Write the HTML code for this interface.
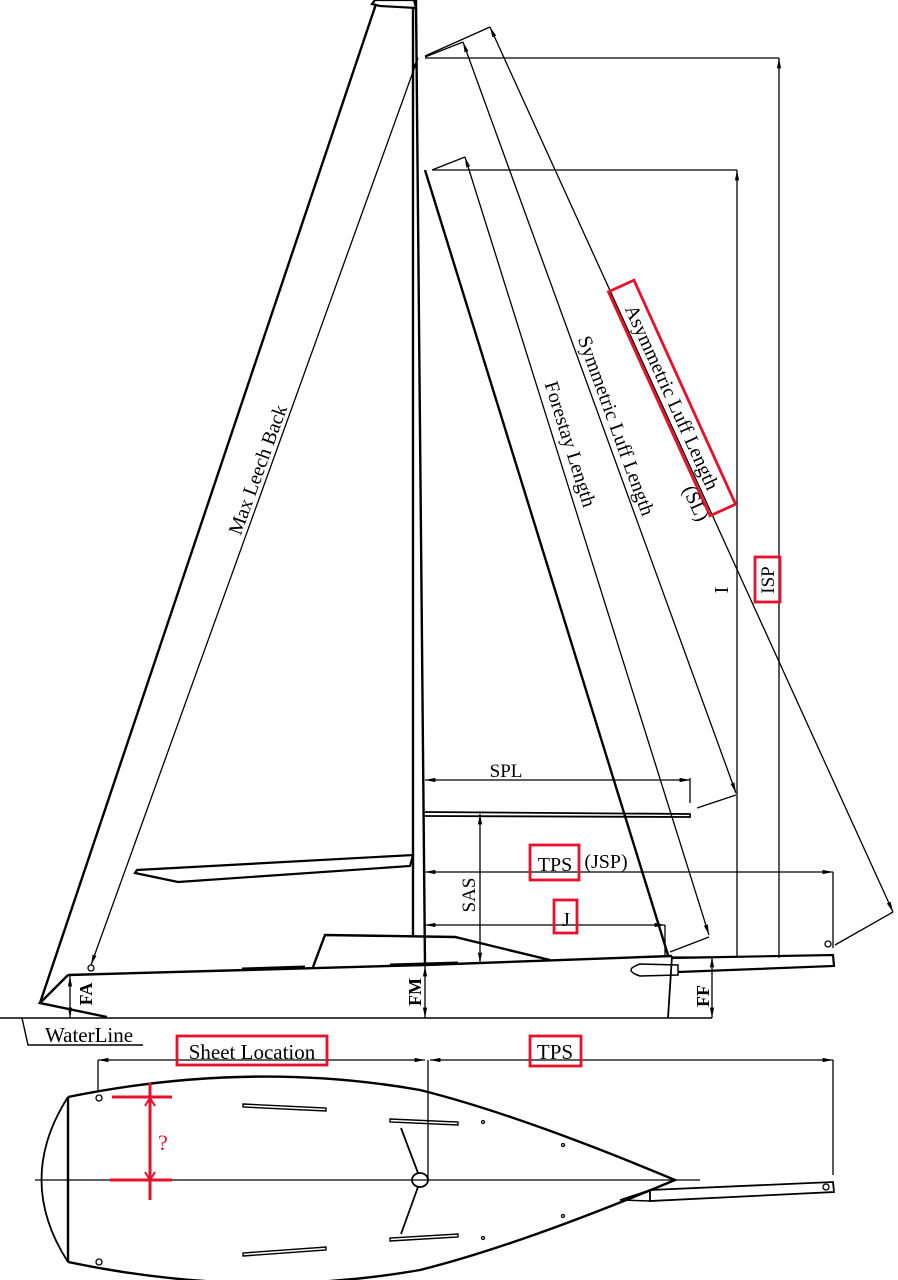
<!DOCTYPE html>
<html><head><meta charset="utf-8"><style>
html,body{margin:0;padding:0;background:#fff}
svg{display:block}
text{font-family:"Liberation Serif",serif;fill:#000}
</style></head><body>
<svg width="898" height="1280" viewBox="0 0 898 1280" xmlns="http://www.w3.org/2000/svg">
<defs>
<marker id="a" viewBox="0 0 10 10" refX="10" refY="5" markerWidth="8" markerHeight="8" orient="auto-start-reverse"><path d="M0,3 L10,5 L0,7 z" fill="#000"/></marker>
</defs>
<g stroke="#000" fill="none" stroke-width="1.3">
<polygon points="372,4 375,0 414,0 416,8 380,6" stroke-width="2.2" fill="#fff"/>
<line x1="413" y1="8" x2="413" y2="935" stroke-width="2.4"/>
<line x1="416" y1="0" x2="425" y2="965" stroke-width="2.4"/>
<line x1="376" y1="4" x2="40" y2="1003" stroke-width="2.4"/>
<polygon points="135,873 178,882 410,866 413,855 137,870" stroke-width="2.2" fill="#fff"/>
<line x1="425" y1="170" x2="668" y2="955" stroke-width="2.4"/>
<path d="M425,812 L690,814 L690,817 L425,816" stroke-width="1.8"/>
<polyline points="68,975 425,965 672,956" stroke-width="2.4"/>
<polyline points="68,975 40,1003 107,1017" stroke-width="2.4"/>
<line x1="672" y1="956" x2="668" y2="1018" stroke-width="1.8"/>
<line x1="242" y1="969" x2="305" y2="967" stroke-width="3"/>
<line x1="390" y1="965" x2="458" y2="963" stroke-width="3"/>
<polyline points="313,967 325,935 455,937 550,960" stroke-width="2.4"/>
<path d="M672,958 L833,955 L834,966 L678,972" stroke-width="2.2"/>
<path d="M678,965 L640,964 Q622,970 640,976 L678,975 Z" stroke-width="1.5"/>
<circle cx="828" cy="944" r="3"/>
<circle cx="91" cy="968" r="3"/>
<line x1="0" y1="1018" x2="712" y2="1018" stroke-width="1.6"/>
<polyline points="22,1018 28,1045 143,1045" stroke-width="1.4"/>
<line x1="425" y1="58" x2="779" y2="58"/>
<line x1="779" y1="58" x2="779" y2="958" marker-start="url(#a)"/>
<line x1="432" y1="170" x2="737" y2="170"/>
<line x1="737" y1="170" x2="737" y2="958" marker-start="url(#a)"/>
<polyline points="425,56 490,27"/>
<line x1="490" y1="27" x2="893" y2="912" marker-start="url(#a)" marker-end="url(#a)"/>
<line x1="893" y1="912" x2="835" y2="945"/>
<polyline points="425,57 463,42"/>
<line x1="463" y1="42" x2="736" y2="793" marker-start="url(#a)" marker-end="url(#a)"/>
<line x1="736" y1="795" x2="697" y2="808"/>
<polyline points="432,170 465,157"/>
<line x1="465" y1="157" x2="709" y2="935" marker-start="url(#a)" marker-end="url(#a)"/>
<line x1="709" y1="937" x2="670" y2="952"/>
<line x1="418" y1="58" x2="91" y2="965" marker-start="url(#a)" marker-end="url(#a)"/>
<line x1="425" y1="780" x2="690" y2="780" marker-start="url(#a)" marker-end="url(#a)"/>
<line x1="690" y1="778" x2="690" y2="803"/>
<line x1="425" y1="872" x2="833" y2="872" marker-start="url(#a)" marker-end="url(#a)"/>
<line x1="833" y1="872" x2="833" y2="948"/>
<line x1="425" y1="925" x2="665" y2="925" marker-start="url(#a)" marker-end="url(#a)"/>
<line x1="665" y1="925" x2="665" y2="955"/>
<line x1="480" y1="814" x2="480" y2="963" marker-start="url(#a)" marker-end="url(#a)"/>
<line x1="70" y1="976" x2="70" y2="1018" marker-start="url(#a)" marker-end="url(#a)"/>
<line x1="425" y1="966" x2="425" y2="1018" marker-start="url(#a)" marker-end="url(#a)"/>
<line x1="712" y1="957" x2="712" y2="1018" marker-start="url(#a)" marker-end="url(#a)"/>
<line x1="672" y1="957" x2="712" y2="957"/>
<line x1="98" y1="1060" x2="425" y2="1060" marker-start="url(#a)" marker-end="url(#a)"/>
<line x1="430" y1="1060" x2="833" y2="1060" marker-start="url(#a)" marker-end="url(#a)"/>
<line x1="98" y1="1060" x2="98" y2="1090"/>
<line x1="428" y1="1060" x2="428" y2="1180"/>
<line x1="833" y1="1060" x2="833" y2="1175"/>
<line x1="35" y1="1180" x2="700" y2="1180"/>
<path d="M68,1097 Q250,1060 420,1090 Q520,1115 675,1180 Q520,1245 420,1270 Q250,1300 68,1262" stroke-width="2.4"/>
<line x1="68" y1="1097" x2="68" y2="1262" stroke-width="2.4"/>
<path d="M68,1097 Q15,1180 68,1262" stroke-width="1.8"/>
<path d="M650,1190 L833,1182 L834,1192 L650,1201 Z" stroke-width="1.8"/>
<path d="M650,1190 L620,1200 L650,1201" stroke-width="1.5"/>
<circle cx="826" cy="1187" r="3"/>
<circle cx="99" cy="1098" r="3"/><circle cx="99" cy="1262" r="3"/>
<ellipse cx="420" cy="1180" rx="8" ry="7" stroke-width="1.8"/>
<line x1="401" y1="1128" x2="418" y2="1173" stroke-width="1.8"/>
<line x1="418" y1="1187" x2="401" y2="1234" stroke-width="1.8"/>
<path d="M243,1104 L326,1108 L326,1111 L243,1107 Z" stroke-width="1.4"/>
<path d="M390,1119 L458,1122 L458,1125 L390,1122 Z" stroke-width="1.4"/>
<path d="M243,1256 L326,1250 L326,1247 L243,1253 Z" stroke-width="1.4"/>
<path d="M390,1241 L458,1237 L458,1234 L390,1238 Z" stroke-width="1.4"/>
<circle cx="483" cy="1122" r="1.5"/><circle cx="563" cy="1145" r="1.5"/>
<circle cx="483" cy="1238" r="1.5"/><circle cx="563" cy="1216" r="1.5"/>
</g>
<g stroke="#e8102a" fill="none" stroke-width="3">
<line x1="112" y1="1097" x2="172" y2="1097"/>
<line x1="110" y1="1180" x2="172" y2="1180"/>
<line x1="150" y1="1083" x2="150" y2="1200"/>
<polyline points="145,1106 150,1098 155,1106" stroke-width="2"/>
<polyline points="145,1172 150,1180 155,1172" stroke-width="2"/>
<rect x="177" y="1036" width="150" height="29" stroke-width="2.8"/>
<rect x="530" y="1036" width="51" height="30" stroke-width="2.8"/>
<rect x="530" y="845" width="49" height="35" stroke-width="2.8"/>
<rect x="554" y="900" width="23" height="33" stroke-width="2.8"/>
<rect x="755" y="557" width="25" height="45" stroke-width="2.8"/>
<rect x="-123" y="-14" width="246" height="28" stroke-width="2.8" transform="translate(672,398) rotate(65.6)"/>
</g>
<text x="158" y="1150" font-size="22" style="fill:#e8102a">?</text>
<text font-size="20" text-anchor="middle" transform="translate(264,472) rotate(-70)">Max Leech Back</text>
<text font-size="20" text-anchor="middle" transform="translate(564,446) rotate(72.5)">Forestay Length</text>
<text font-size="20" text-anchor="middle" transform="translate(610,428) rotate(70)">Symmetric Luff Length</text>
<text font-size="20" text-anchor="middle" transform="translate(666,400) rotate(65.6)">Asymmetric Luff Length</text>
<text font-size="20" text-anchor="middle" transform="translate(690,506) rotate(65.6)">(SL)</text>
<text font-size="20" text-anchor="middle" transform="translate(728,590) rotate(-90)">I</text>
<text font-size="19" text-anchor="middle" transform="translate(774,580) rotate(-90)">ISP</text>
<text x="506" y="777" font-size="19" text-anchor="middle">SPL</text>
<text x="555" y="871" font-size="20" text-anchor="middle">TPS</text>
<text x="606" y="868" font-size="20" text-anchor="middle">(JSP)</text>
<text x="566" y="926" font-size="20" text-anchor="middle">J</text>
<text font-size="19" text-anchor="middle" transform="translate(475,895) rotate(-90)">SAS</text>
<text font-size="18" font-weight="bold" text-anchor="middle" transform="translate(92,994) rotate(-90)">FA</text>
<text font-size="18" font-weight="bold" text-anchor="middle" transform="translate(421,992) rotate(-90)">FM</text>
<text font-size="18" font-weight="bold" text-anchor="middle" transform="translate(709,996) rotate(-90)">FF</text>
<text x="45" y="1042" font-size="21">WaterLine</text>
<text x="252" y="1059" font-size="21" text-anchor="middle">Sheet Location</text>
<text x="555" y="1059" font-size="21" text-anchor="middle">TPS</text>
</svg>
</body></html>
